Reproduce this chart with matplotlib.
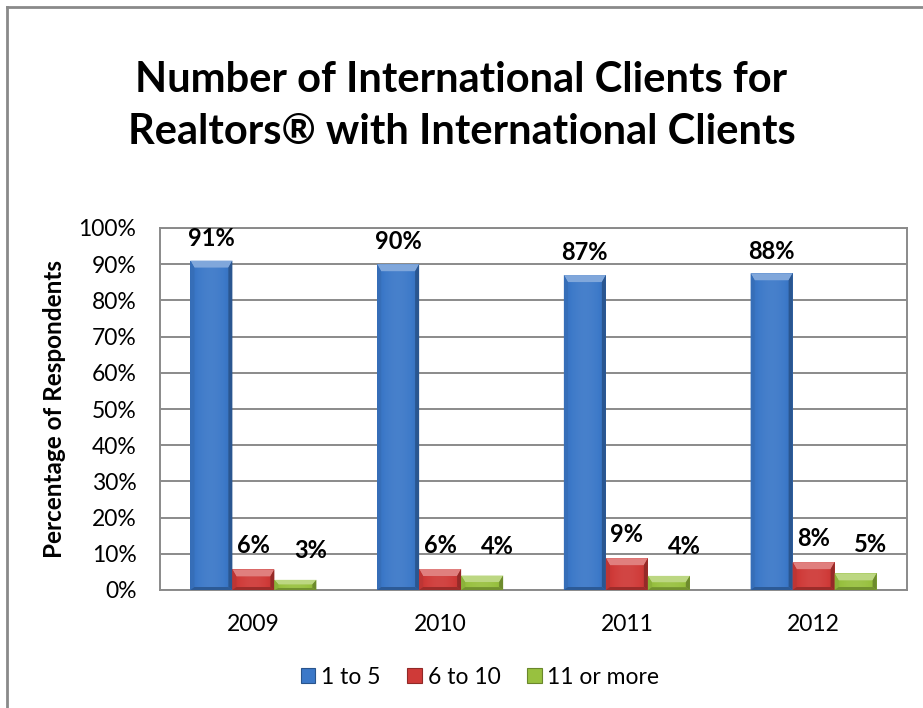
import numpy as np
import matplotlib.pyplot as plt
from matplotlib.patches import Polygon, Rectangle, Patch
from matplotlib.lines import Line2D
from matplotlib.colors import to_rgb

plt.rcParams['font.family'] = ['Lato', 'DejaVu Sans']

years = ["2009", "2010", "2011", "2012"]
series_names = ["1 to 5", "6 to 10", "11 or more"]
one_to_five = [0.91, 0.90, 0.87, 0.875]
six_to_ten = [0.057, 0.058, 0.088, 0.077]
eleven_plus = [0.028, 0.040, 0.039, 0.046]
y_ticks = [0, 0.1, 0.2, 0.3, 0.4, 0.5, 0.6, 0.7, 0.8, 0.9, 1.0]

base_colors = ["#3b78c8", "#cf3a38", "#98c13f"]
label_dy = [16, 17, 21]     # points above bar top
label_dx = [0, 0, 11]

W, H = 923, 708
fig = plt.figure(figsize=(W / 100, H / 100), dpi=100)

# axes placed in pixels: left 160, right 907, top 228, bottom 590
ax = fig.add_axes([160 / W, (H - 590) / H, 747 / W, 362 / H])
ax.set_xlim(-0.5, 3.5)
ax.set_ylim(0, 1)

px_x = 4 / 747
px_y = 1 / 362


def shade(c, f):
    c = np.array(to_rgb(c))
    if f >= 0:
        return tuple(c + (1 - c) * f)
    return tuple(c * (1 + f))


def bevel_bar(x0, w, h, color):
    body = Rectangle((x0, 0), w, h, facecolor=color, edgecolor="none", zorder=3)
    ax.add_patch(body)
    # horizontal gradient across the body
    n = 64
    t = np.linspace(0, 1, n)
    prof = 0.16 * np.sin(np.pi * t) ** 0.6 - 0.10
    grad = np.array([shade(color, f) for f in prof])[None, :, :]
    im = ax.imshow(grad, extent=(x0, x0 + w, 0, h), aspect="auto",
                   interpolation="bilinear", zorder=3.1)
    im.set_clip_path(body)
    bx = 4 * px_x
    by = min(7 * px_y, h * 0.45)
    bb = min(3 * px_y, h * 0.2)
    x1 = x0 + w
    faces = [
        ([(x0, h), (x1, h), (x1 - bx, h - by), (x0 + bx, h - by)], 0.35),
        ([(x0, 0), (x0 + bx, bb), (x0 + bx, h - by), (x0, h)], -0.08),
        ([(x1, 0), (x1 - bx, bb), (x1 - bx, h - by), (x1, h)], -0.28),
        ([(x0, 0), (x1, 0), (x1 - bx, bb), (x0 + bx, bb)], -0.25),
    ]
    for pts, f in faces:
        ax.add_patch(Polygon(pts, closed=True, facecolor=shade(color, f),
                             edgecolor="none", zorder=3.2))


bar_w = 42 * px_x
x = np.arange(len(years))
all_series = [one_to_five, six_to_ten, eleven_plus]
for k, vals in enumerate(all_series):
    offs = (k - 1) * bar_w
    for i, v in enumerate(vals):
        bevel_bar(x[i] + offs - bar_w / 2, bar_w, v, base_colors[k])
        ax.annotate(f"{v:.0%}", (x[i] + offs, v), xytext=(label_dx[k], label_dy[k]),
                    textcoords="offset points", ha="center", va="center",
                    fontsize=17, fontweight="bold", color="black", zorder=5)

ax.set_yticks(y_ticks)
ax.set_yticklabels([f"{t:.0%}" for t in y_ticks], fontsize=16.5)
ax.set_xticks(x)
ax.set_xticklabels(years, fontsize=16.5)
ax.tick_params(length=0)
ax.tick_params(axis="x", pad=17)
ax.tick_params(axis="y", pad=17)
ax.yaxis.grid(True, color="#8a8a8a", linewidth=1.4)
ax.set_axisbelow(True)
for s in ax.spines.values():
    s.set_color("#8a8a8a")
    s.set_linewidth(1.4)

ax.set_ylabel("Percentage of Respondents", fontsize=17.5, fontweight="bold", labelpad=9)

fig.text(0.5, 1 - 106 / H, "Number of International Clients for\nRealtors\u00ae with International Clients",
         ha="center", va="center", fontsize=30, fontweight="bold", linespacing=1.45)

handles = [Patch(facecolor=base_colors[k], edgecolor=shade(base_colors[k], -0.3), linewidth=0.8)
           for k in range(3)]
fig.legend(handles, series_names, loc="center", bbox_to_anchor=(480 / W, 1 - 677 / H),
           ncol=3, frameon=False, fontsize=16.5, handlelength=0.65, handleheight=0.65,
           handletextpad=0.25, columnspacing=1.15)

# outer chart frame (cropped at right and bottom)
fig.add_artist(Line2D([7.5 / W, 1], [1 - 6.5 / H, 1 - 6.5 / H], color="#8a8a8a", linewidth=2))
fig.add_artist(Line2D([7.5 / W, 7.5 / W], [0, 1 - 6.5 / H], color="#8a8a8a", linewidth=2))

fig.savefig("out.png", dpi=100)
